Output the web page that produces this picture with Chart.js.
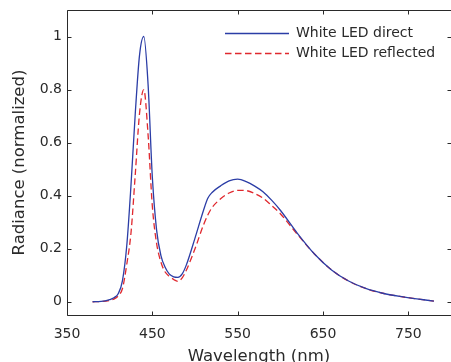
<!DOCTYPE html>
<html>
<head>
<meta charset="utf-8">
<script src="https://cdn.jsdelivr.net/npm/chart.js@4/dist/chart.umd.min.js"></script>
<style>
  html, body { margin: 0; padding: 0; overflow: hidden; background: #fff; }
  canvas { display: block; }
</style>
</head>
<body>
<canvas id="spectrum" width="451" height="362"></canvas>
<script>
// spectra sampled in nm, normalized to the direct peak
const wavelengths = [380, 390, 400, 405, 410, 415, 420, 425, 430, 435, 440, 445, 450, 455, 460, 465, 470, 475, 480, 485, 490,
    500, 510, 515, 520, 530, 540, 550, 560, 570, 580, 590, 600, 620, 640, 660, 680, 700, 720, 740, 760, 780];
const directRadiance = [0, 0.001, 0.008, 0.015, 0.03, 0.08, 0.21, 0.44, 0.71, 0.93, 1.0, 0.82, 0.47, 0.27, 0.175, 0.13, 0.104, 0.094, 0.092, 0.105, 0.14,
    0.24, 0.345, 0.39, 0.412, 0.437, 0.456, 0.462, 0.453, 0.436, 0.414, 0.382, 0.345, 0.258, 0.18, 0.12, 0.078, 0.05, 0.032, 0.02, 0.011, 0.002];
const reflectedRadiance = [0, 0.001, 0.005, 0.01, 0.022, 0.05, 0.14, 0.26, 0.48, 0.71, 0.80, 0.63, 0.36, 0.22, 0.15, 0.112, 0.096, 0.084, 0.077, 0.09, 0.12,
    0.20, 0.29, 0.327, 0.355, 0.388, 0.41, 0.42, 0.419, 0.408, 0.39, 0.362, 0.332, 0.254, 0.18, 0.12, 0.078, 0.05, 0.032, 0.02, 0.011, 0.002];
const seriesLabels = ['White LED direct', 'White LED reflected'];
const xTicks = [350, 450, 550, 650, 750];
const yTicks = [0, 0.2, 0.4, 0.6, 0.8, 1];

const textColor = '#2a2a2a';
const fontFamily = '"DejaVu Sans", sans-serif';

function toPoints(values) {
    return wavelengths.map((w, i) => ({ x: w, y: values[i] }));
}

// axes frame (right edge falls just past the canvas) with inward ticks, plus the legend
const framePlugin = {
    id: 'frame',
    afterDraw(chart) {
        const { ctx, chartArea: a, scales: { x, y } } = chart;
        const left = Math.round(a.left) + 0.5, right = Math.round(a.right) + 0.5;
        const top = Math.round(a.top) + 0.5, bottom = Math.round(a.bottom) + 0.5;
        ctx.save();
        ctx.strokeStyle = textColor;
        ctx.lineWidth = 1;
        ctx.beginPath();
        ctx.moveTo(right, top); ctx.lineTo(left, top); ctx.lineTo(left, bottom); ctx.lineTo(right, bottom);
        ctx.stroke();
        ctx.beginPath();
        xTicks.forEach(v => {
            const px = Math.round(x.getPixelForValue(v)) + 0.5;
            ctx.moveTo(px, bottom); ctx.lineTo(px, bottom - 4);
            ctx.moveTo(px, top); ctx.lineTo(px, top + 4);
        });
        yTicks.forEach(v => {
            const py = Math.round(y.getPixelForValue(v)) + 0.5;
            ctx.moveTo(left, py); ctx.lineTo(left + 4, py);
            ctx.moveTo(right, py); ctx.lineTo(right - 4, py);
        });
        ctx.stroke();

        // legend
        ctx.font = '14px ' + fontFamily;
        ctx.textBaseline = 'middle';
        chart.data.datasets.forEach((ds, i) => {
            const ly = 33.5 + i * 20;
            ctx.beginPath();
            ctx.strokeStyle = ds.borderColor;
            ctx.lineWidth = ds.borderWidth;
            ctx.setLineDash(ds.borderDash || []);
            ctx.moveTo(225, ly); ctx.lineTo(289, ly);
            ctx.stroke();
            ctx.setLineDash([]);
            ctx.fillStyle = textColor;
            ctx.fillText(ds.label, 296, ly);
        });
        ctx.restore();
    }
};

new Chart(document.getElementById('spectrum'), {
    type: 'line',
    data: {
        datasets: [
            { label: seriesLabels[0], data: toPoints(directRadiance), borderColor: '#2b3da6', borderWidth: 1.3 },
            { label: seriesLabels[1], data: toPoints(reflectedRadiance), borderColor: '#e0282e', borderWidth: 1.3, borderDash: [6.5, 3.5] }
        ]
    },
    options: {
        responsive: false,
        animation: false,
        // negative right padding pushes the 800 nm end just past the canvas edge
        layout: { padding: { top: 10, right: -2, left: 0, bottom: 0 } },
        elements: {
            point: { radius: 0 },
            line: { cubicInterpolationMode: 'monotone', fill: false }
        },
        plugins: { legend: { display: false }, tooltip: { enabled: false } },
        scales: {
            x: {
                type: 'linear',
                min: 350, max: 800,
                afterBuildTicks: s => { s.ticks = xTicks.map(v => ({ value: v })); },
                afterFit: s => { s.height = 47; s.paddingLeft = 0; s.paddingRight = 0; },
                grid: { display: false, drawTicks: false },
                border: { display: false },
                ticks: { color: textColor, font: { family: fontFamily, size: 14 }, padding: 11, maxRotation: 0 },
                title: { display: true, text: 'Wavelength (nm)', color: textColor, font: { family: fontFamily, size: 16.5 }, padding: { top: 0, bottom: -5 } }
            },
            y: {
                min: -0.05, max: 1.1,
                afterBuildTicks: s => { s.ticks = yTicks.map(v => ({ value: v })); },
                afterFit: s => { s.width = 67; s.paddingTop = 0; s.paddingBottom = 0; },
                grid: { display: false, drawTicks: false },
                border: { display: false },
                ticks: { color: textColor, font: { family: fontFamily, size: 14 }, padding: 5, callback: v => String(v) },
                title: { display: true, text: 'Radiance (normalized)', color: textColor, font: { family: fontFamily, size: 16.5 }, padding: { top: 10, bottom: 0 } }
            }
        }
    },
    plugins: [framePlugin]
});
</script>
</body>
</html>
